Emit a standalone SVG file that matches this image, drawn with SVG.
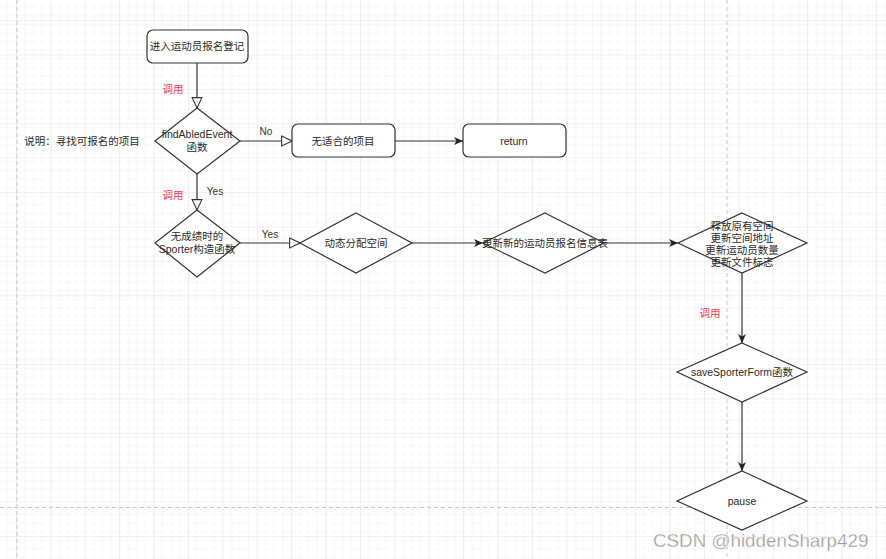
<svg xmlns="http://www.w3.org/2000/svg" width="886" height="559" viewBox="0 0 886 559">
<defs>
<pattern id="minor" width="8.6" height="8.6" patternUnits="userSpaceOnUse" x="17" y="-13.4">
<path d="M8.6 0 V8.6 M0 8.6 H8.6" fill="none" stroke="#f0f0f0" stroke-width="1"/>
</pattern>
<pattern id="major" width="34.4" height="34.4" patternUnits="userSpaceOnUse" x="17" y="-13.4">
<rect width="34.4" height="34.4" fill="url(#minor)"/>
<path d="M34.4 0 V34.4 M0 34.4 H34.4" fill="none" stroke="#e4e4e4" stroke-width="1"/>
</pattern>
<marker id="open" markerWidth="12" markerHeight="12" refX="10" refY="5" orient="auto" markerUnits="userSpaceOnUse" viewBox="0 0 11 10">
<path d="M0.5,0.5 L10,5 L0.5,9.5 z" fill="#fff" stroke="#333" stroke-width="1"/>
</marker>
<marker id="fill" markerWidth="10" markerHeight="10" refX="9" refY="4" orient="auto" markerUnits="userSpaceOnUse" viewBox="0 0 10 8">
<path d="M0,0 L9,4 L0,8 L2.5,4 z" fill="#222"/>
</marker>
<style>
.shape{fill:#fff;stroke:#333;stroke-width:1.2}
.t{font-family:"Liberation Sans","Noto Sans CJK SC",sans-serif;font-size:10.5px;fill:#2a2a2a;text-anchor:middle}
.lbl{font-family:"Liberation Sans","Noto Sans CJK SC",sans-serif;font-size:10px;fill:#333;text-anchor:middle}
.red{font-family:"Liberation Sans","Noto Sans CJK SC",sans-serif;font-size:10.5px;fill:#ff3355;text-anchor:middle}
.edge{fill:none;stroke:#333;stroke-width:1.2}
.page{fill:none;stroke:#c8c8c8;stroke-width:1;stroke-dasharray:4 3}
</style>
</defs>
<rect width="886" height="559" fill="#fff"/>
<rect width="886" height="559" fill="url(#major)"/>
<g id="pagebreaks">
<path class="page" d="M17 0 V559"/>
<path class="page" d="M727 0 V559"/>
<path class="page" d="M0 507.5 H886"/>
</g>
<g id="connectors">
<path class="edge" d="M197 63 V108" marker-end="url(#open)"/>
<path class="edge" d="M240 141 H292" marker-end="url(#open)"/>
<path class="edge" d="M395 141 H463" marker-end="url(#fill)"/>
<path class="edge" d="M197 174 V210" marker-end="url(#open)"/>
<path class="edge" d="M240 243 H300" marker-end="url(#open)"/>
<path class="edge" d="M412 243 H483" marker-end="url(#fill)"/>
<path class="edge" d="M604 243 H678" marker-end="url(#fill)"/>
<path class="edge" d="M742 273 V343" marker-end="url(#fill)"/>
<path class="edge" d="M742 402 V471" marker-end="url(#fill)"/>
<text class="red" x="173" y="93">调用</text>
<text class="lbl" x="266" y="135">No</text>
<text class="red" x="173" y="199">调用</text>
<text class="lbl" x="215" y="195">Yes</text>
<text class="lbl" x="270" y="238">Yes</text>
<text class="red" x="710" y="317">调用</text>
</g>
<g id="note">
<text class="t" x="82" y="145">说明：寻找可报名的项目</text>
</g>
<g id="start">
<rect class="shape" x="147" y="30" width="101" height="33" rx="6"/>
<text class="t" x="197" y="50">进入运动员报名登记</text>
</g>
<g id="findAbledEvent">
<polygon class="shape" points="197,108 240,141 197,174 155,141"/>
<text class="t" x="197" y="138">findAbledEvent</text>
<text class="t" x="197" y="151">函数</text>
</g>
<g id="noEvent">
<rect class="shape" x="292" y="124" width="103" height="33" rx="6"/>
<text class="t" x="343" y="145">无适合的项目</text>
</g>
<g id="return">
<rect class="shape" x="463" y="124" width="103" height="33" rx="6"/>
<text class="t" x="514" y="145">return</text>
</g>
<g id="constructor">
<polygon class="shape" points="197,210 240,243 197,277 155,243"/>
<text class="t" x="197" y="240">无成绩时的</text>
<text class="t" x="197" y="253">Sporter构造函数</text>
</g>
<g id="alloc">
<polygon class="shape" points="356,213 412,243 356,273 300,243"/>
<text class="t" x="356" y="247">动态分配空间</text>
</g>
<g id="updateTable">
<polygon class="shape" points="545,213 604,243 545,273 483,243"/>
<text class="t" x="545" y="247">更新新的运动员报名信息表</text>
</g>
<g id="release">
<polygon class="shape" points="742,213 807,243 742,273 678,243"/>
<text class="t" x="742" y="230">释放原有空间</text>
<text class="t" x="742" y="242">更新空间地址</text>
<text class="t" x="742" y="254">更新运动员数量</text>
<text class="t" x="742" y="266">更新文件标志</text>
</g>
<g id="saveSporterForm">
<polygon class="shape" points="742,343 807,372 742,402 677,372"/>
<text class="t" x="742" y="376">saveSporterForm函数</text>
</g>
<g id="pause">
<polygon class="shape" points="742,471 807,501 742,530 677,501"/>
<text class="t" x="742" y="505">pause</text>
</g>
<g id="watermark">
<text x="653" y="547" font-family="Liberation Sans, sans-serif" font-size="18.8" fill="#9a9a9a" stroke="#fff" stroke-width="0.3">CSDN @hiddenSharp429</text>
</g>
</svg>
